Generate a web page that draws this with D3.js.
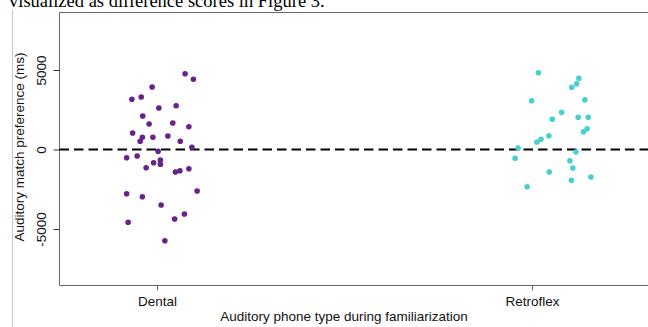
<!DOCTYPE html>
<html>
<head>
<meta charset="utf-8">
<script src="https://cdn.jsdelivr.net/npm/d3@7"></script>
<style>
  body { margin: 0; background: #fff; }
  svg { display: block; }
</style>
</head>
<body>
<svg id="chart" width="648" height="327"></svg>
<script>
const categories = ['Dental', 'Retroflex']
const yTicks = [-5000, 0, 5000]

// preference scores (ms) and horizontal jitter (category units)
const dentalValues = [4767, 4415, 3931, 3157, 3302, 2610, 2755, 2107, 1604, 1667, 1434, 1038,
  767, 767, 849, 516, 516, 138, -113, -516, -409, -660, -830, -931, -1145, -1207, -1415,
  -1333, -2610, -2780, -2968, -3490, -4056, -4371, -4578, -5736]
const dentalJitter = [0.075, 0.097, -0.013, -0.067, -0.042, 0.005, 0.051, -0.038, -0.021, 0.042,
  0.085, -0.065, -0.039, -0.011, 0.029, -0.045, 0.062, 0.093, 0.003, -0.081, -0.053, 0.009,
  -0.009, 0.009, -0.029, 0.085, 0.049, 0.061, 0.107, -0.081, -0.039, 0.011, 0.073, 0.047,
  -0.077, 0.021]
const retroflexValues = [4830, 4478, 4138, 3912, 3069, 3132, 2339, 1899, 2025, 2025, 1308, 1119,
  868, 641, 472, 94, -157, -553, -704, -1163, -1415, -1937, -1729, -2339]
const retroflexJitter = [0.017, 0.125, 0.119, 0.106, -0.001, 0.141, 0.079, 0.054, 0.123, 0.150,
  0.147, 0.137, 0.045, 0.024, 0.013, -0.037, 0.117, -0.045, 0.101, 0.109, 0.046, 0.105, 0.157,
  -0.013]

const colors = { Dental: '#68228B', Retroflex: '#48D1CC' }

const points = []
dentalValues.forEach((v, i) => points.push({ cat: 'Dental', x: 1 + dentalJitter[i], y: v }))
retroflexValues.forEach((v, i) => points.push({ cat: 'Retroflex', x: 2 + retroflexJitter[i], y: v }))

const svg = d3.select('#chart')
const plot = { left: 59.5, top: 12.5, right: 660, bottom: 285.5 }

// bits of the surrounding document
svg.append('line')
  .attr('x1', 12.5).attr('x2', 12.5).attr('y1', 10).attr('y2', 327)
  .attr('stroke', '#c8c8c8')
svg.append('text')
  .attr('x', 9).attr('y', 7)
  .attr('font-family', '"Liberation Serif", "Times New Roman", serif')
  .attr('font-size', 18.5)
  .attr('fill', '#000')
  .text('visualized as difference scores in Figure 3.')

const xScale = d3.scaleLinear().domain([1, 2]).range([157, 532])
const yScale = d3.scaleLinear().domain([-5000, 5000]).range([229, 70])

// frame
svg.append('path')
  .attr('d', `M${plot.right},${plot.top}H${plot.left}V${plot.bottom}H${plot.right}`)
  .attr('fill', 'none')
  .attr('stroke', '#666')

const xAxis = d3.axisBottom(xScale)
  .tickValues([1, 2])
  .tickFormat((d, i) => categories[i])
  .tickSize(5)
  .tickPadding(6)
const gx = svg.append('g')
  .attr('transform', `translate(0,${plot.bottom})`)
  .call(xAxis)
gx.select('.domain').remove()
gx.selectAll('line').attr('stroke', '#666')
gx.selectAll('text')
  .attr('font-family', '"Liberation Sans", Arial, sans-serif')
  .attr('font-size', 13.5)
  .attr('fill', '#111')

const yAxis = d3.axisLeft(yScale).tickValues(yTicks).tickSize(6).tickFormat(d => String(d))
const gy = svg.append('g')
  .attr('transform', `translate(${plot.left},0)`)
  .call(yAxis)
gy.select('.domain').remove()
gy.selectAll('line').attr('stroke', '#333')
gy.selectAll('text')
  .attr('font-family', '"Liberation Sans", Arial, sans-serif')
  .attr('font-size', 13.5)
  .attr('fill', '#111')
  .attr('x', 0).attr('dy', 0)
  .attr('text-anchor', 'middle')
  .attr('transform', 'translate(-14,0) rotate(-90)')

// zero reference line
svg.append('line')
  .attr('x1', plot.left).attr('x2', 648)
  .attr('y1', yScale(0)).attr('y2', yScale(0))
  .attr('stroke', '#000')
  .attr('stroke-width', 2)
  .attr('stroke-dasharray', '9.5,5')

svg.append('g')
  .selectAll('circle')
  .data(points)
  .join('circle')
  .attr('cx', d => xScale(d.x))
  .attr('cy', d => yScale(d.y))
  .attr('r', 2.8)
  .attr('fill', d => colors[d.cat])

svg.append('text')
  .attr('x', 344).attr('y', 321)
  .attr('text-anchor', 'middle')
  .attr('font-family', '"Liberation Sans", Arial, sans-serif')
  .attr('font-size', 13.5)
  .attr('fill', '#111')
  .text('Auditory phone type during familiarization')

svg.append('text')
  .attr('transform', `translate(24,147) rotate(-90)`)
  .attr('text-anchor', 'middle')
  .attr('font-family', '"Liberation Sans", Arial, sans-serif')
  .attr('font-size', 13.5)
  .attr('fill', '#111')
  .text('Auditory match preference (ms)')
</script>
</body>
</html>
